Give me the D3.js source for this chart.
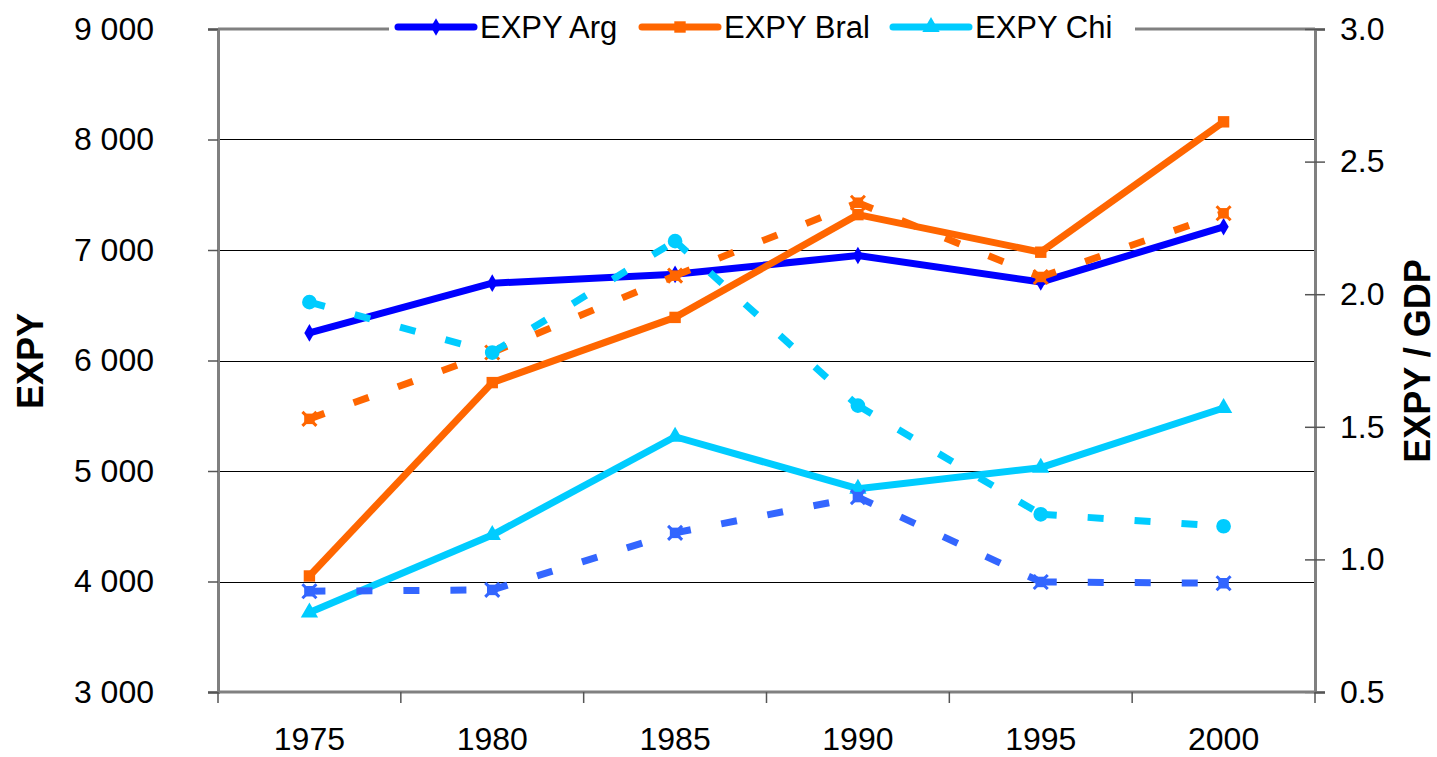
<!DOCTYPE html>
<html>
<head>
<meta charset="utf-8">
<script src="https://cdn.jsdelivr.net/npm/d3@7"></script>
<style>
  body { margin: 0; background: #fff; }
  svg { display: block; font-family: "Liberation Sans", Arial, sans-serif; }
</style>
</head>
<body>
<svg id="chart" width="1437" height="757"></svg>
<script>
// data
const years = ['1975', '1980', '1985', '1990', '1995', '2000'];
const expyArg  = [6250, 6700, 6780, 6950, 6710, 7210];
const expyBral = [4050, 5800, 6390, 7320, 6980, 8160];
const expyChi  = [3720, 4420, 5310, 4840, 5030, 5570];
const ratioArg  = [0.88, 0.885, 1.10, 1.235, 0.915, 0.91];
const ratioBral = [1.53, 1.78, 2.07, 2.345, 2.065, 2.305];
const ratioChi  = [1.97, 1.78, 2.20, 1.58, 1.17, 1.125];
const leftTicks = [3000, 4000, 5000, 6000, 7000, 8000, 9000];
const rightTicks = [0.5, 1.0, 1.5, 2.0, 2.5, 3.0];
const legendNames = ['EXPY Arg', 'EXPY Bral', 'EXPY Chi'];

const svg = d3.select('#chart');
const plotL = 218, plotR = 1315, plotT = 29, plotB = 692;

const x = d3.scaleBand().domain(years).range([plotL, plotR]).padding(0);
const cx = d => x(d) + x.bandwidth() / 2;
const yL = d3.scaleLinear().domain([3000, 9000]).range([plotB, plotT]);
const yR = d3.scaleLinear().domain([0.5, 3.0]).range([plotB, plotT]);

// gridlines
svg.append('g').selectAll('line')
  .data(leftTicks.filter(d => d > 3000 && d < 9000))
  .join('line')
    .attr('x1', plotL).attr('x2', plotR)
    .attr('y1', d => Math.round(yL(d)) + 0.5).attr('y2', d => Math.round(yL(d)) + 0.5)
    .attr('stroke', '#000').attr('stroke-width', 1);

// top border
svg.append('line')
  .attr('x1', plotL).attr('x2', plotR).attr('y1', plotT).attr('y2', plotT)
  .attr('stroke', '#808080').attr('stroke-width', 3);

// left axis
const gL = svg.append('g').attr('transform', `translate(${plotL},0)`)
  .call(d3.axisLeft(yL).tickValues(leftTicks).tickSize(10).tickPadding(54)
    .tickFormat(d => d3.format(',')(d).replace(',', ' ')));
gL.select('.domain').attr('stroke', '#808080').attr('stroke-width', 3);
gL.selectAll('.tick line').attr('stroke', '#555').attr('stroke-width', 1.5);
gL.selectAll('.tick text').attr('font-size', 32).attr('fill', '#000')
  .attr('font-family', '"Liberation Sans", Arial, sans-serif');

// right axis
const gR = svg.append('g').attr('transform', `translate(${plotR},0)`)
  .call(d3.axisRight(yR).tickValues(rightTicks).tickSize(10).tickPadding(15)
    .tickFormat(d3.format('.1f')));
gR.select('.domain').attr('stroke', '#808080').attr('stroke-width', 3);
gR.selectAll('.tick line').attr('x1', -10).attr('stroke', '#555').attr('stroke-width', 1.5);
gR.selectAll('.tick text').attr('font-size', 32).attr('fill', '#000')
  .attr('font-family', '"Liberation Sans", Arial, sans-serif');

// bottom axis
svg.append('line')
  .attr('x1', plotL).attr('x2', plotR).attr('y1', plotB).attr('y2', plotB)
  .attr('stroke', '#808080').attr('stroke-width', 3);
svg.append('g').selectAll('line')
  .data(years.map(d => x(d)).concat([plotR]))
  .join('line')
    .attr('x1', d => d).attr('x2', d => d)
    .attr('y1', plotB).attr('y2', plotB + 11)
    .attr('stroke', '#555').attr('stroke-width', 1.5);
svg.append('g').selectAll('text')
  .data(years)
  .join('text')
    .attr('x', cx).attr('y', 750)
    .attr('text-anchor', 'middle').attr('font-size', 32)
    .text(d => d);

// axis titles
svg.append('text')
  .attr('transform', 'translate(43,361) rotate(-90)')
  .attr('text-anchor', 'middle').attr('font-size', 36).attr('font-weight', 'bold')
  .text('EXPY');
svg.append('text')
  .attr('transform', 'translate(1430,361) rotate(-90)')
  .attr('text-anchor', 'middle').attr('font-size', 36).attr('font-weight', 'bold')
  .text('EXPY / GDP');

// series
const marker = {
  diamond: d3.symbol().type(d3.symbolDiamond).size(90),
  square: d3.symbol().type(d3.symbolSquare).size(130),
  triangle: d3.symbol().type(d3.symbolTriangle).size(130),
  circle: d3.symbol().type(d3.symbolCircle).size(170),
  xsquare: d3.symbol().type(d3.symbolSquare).size(110)
};

const series = [
  {values: expyArg,  scale: yL, color: '#0000FF', dash: null, mark: 'diamond'},
  {values: expyBral, scale: yL, color: '#FF6600', dash: null, mark: 'square'},
  {values: expyChi,  scale: yL, color: '#00CCFF', dash: null, mark: 'triangle'},
  {values: ratioArg,  scale: yR, color: '#3366FF', dash: '16,31', mark: 'xsquare'},
  {values: ratioBral, scale: yR, color: '#FF6600', dash: '16,31', mark: 'xsquare'},
  {values: ratioChi,  scale: yR, color: '#00CCFF', dash: '16,31', mark: 'circle'}
];

series.forEach(s => {
  const pts = years.map((yr, i) => [cx(yr), s.scale(s.values[i])]);
  const g = svg.append('g');
  // each segment drawn on its own so dashes restart at every point
  for (let i = 0; i < pts.length - 1; i++) {
    g.append('path')
      .attr('d', d3.line()([pts[i], pts[i + 1]]))
      .attr('fill', 'none')
      .attr('stroke', s.color)
      .attr('stroke-width', 7)
      .attr('stroke-linejoin', 'round')
      .attr('stroke-dasharray', s.dash);
  }
  g.selectAll('.pt').data(pts).join('path')
    .attr('class', 'pt')
    .attr('transform', d => `translate(${d[0]},${d[1]})`)
    .attr('d', marker[s.mark]())
    .attr('fill', s.color);
  if (s.mark === 'xsquare') {
    g.selectAll('.px').data(pts).join('path')
      .attr('class', 'px')
      .attr('transform', d => `translate(${d[0]},${d[1]})`)
      .attr('d', 'M-7,-7L7,7M-7,7L7,-7')
      .attr('stroke', s.color).attr('stroke-width', 3);
  }
});

// legend
const legend = svg.append('g');
legend.append('rect')
  .attr('x', 389).attr('y', 4).attr('width', 746).attr('height', 44)
  .attr('fill', '#fff');
const legX = [398, 642, 893];
legendNames.forEach((name, i) => {
  const s = series[i];
  const lg = legend.append('g').attr('transform', `translate(${legX[i]},27)`);
  lg.append('line')
    .attr('x1', 0).attr('x2', 76).attr('y1', 0).attr('y2', 0)
    .attr('stroke', s.color).attr('stroke-width', 7).attr('stroke-linecap', 'round');
  lg.append('path')
    .attr('transform', 'translate(38,0)')
    .attr('d', marker[s.mark]())
    .attr('fill', s.color);
  lg.append('text')
    .attr('x', 82).attr('y', 11)
    .attr('font-size', 31)
    .text(name);
});
</script>
</body>
</html>
